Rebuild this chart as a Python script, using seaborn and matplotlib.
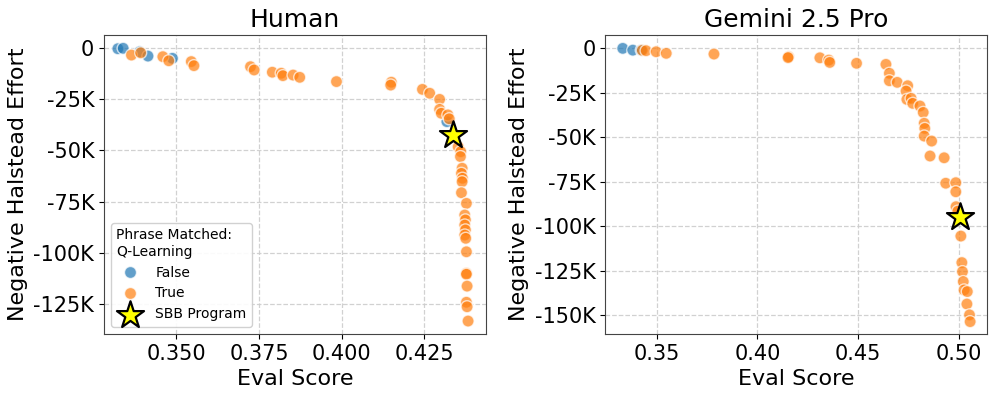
import numpy as np
import pandas as pd
import seaborn as sns
import matplotlib.pyplot as plt
from matplotlib.ticker import FuncFormatter, MultipleLocator

# Human panel
human_x = [0.3323, 0.3339, 0.3389, 0.3414, 0.3488, 0.4318,
           0.3364, 0.3392, 0.3459, 0.3477, 0.3545, 0.3553, 0.3724, 0.3735,
           0.3790, 0.3817, 0.3822, 0.3853, 0.3873, 0.3984, 0.4150, 0.4148,
           0.4244, 0.4266, 0.4296, 0.4296, 0.4301, 0.4321, 0.4325, 0.4352,
           0.4360, 0.4359, 0.4364, 0.4362, 0.4365, 0.4364, 0.4362, 0.4377,
           0.4372, 0.4374, 0.4372, 0.4374, 0.4372, 0.4375, 0.4377, 0.4377,
           0.4377, 0.4379, 0.4377, 0.4379, 0.4382]
human_y = [-0.2, 0.0, -1.7, -3.8, -4.9, -35.9,
           -3.3, -2.2, -4.1, -6.1, -6.5, -8.5, -9.0, -10.6,
           -11.7, -12.2, -13.4, -13.1, -14.2, -16.3, -16.6, -18.0,
           -20.1, -22.0, -25.0, -29.9, -31.8, -32.6, -34.5, -48.2,
           -50.6, -53.0, -58.7, -61.2, -63.6, -65.3, -70.7, -75.9,
           -81.6, -84.0, -86.5, -88.9, -91.4, -93.0, -99.6, -110.1,
           -110.6, -116.4, -124.3, -126.5, -133.5]
human_match = [False] * 6 + [True] * 45
human_star = (0.4335, -42.4)

# Gemini 2.5 Pro panel
gemini_x = [0.3331, 0.3381, 0.3423,
            0.3428, 0.3447, 0.3497, 0.3547, 0.3784, 0.4155, 0.4152, 0.4310,
            0.4354, 0.4359, 0.4492, 0.4638, 0.4655, 0.4655, 0.4694, 0.4746,
            0.4738, 0.4742, 0.4763, 0.4771, 0.4807, 0.4823, 0.4828, 0.4831,
            0.4828, 0.4865, 0.4857, 0.4927, 0.4935, 0.4985, 0.4985, 0.4986,
            0.4995, 0.5010, 0.5015, 0.5018, 0.5022, 0.5026, 0.5042, 0.5040,
            0.5053, 0.5056]
gemini_y = [0.0, -1.0, -1.0,
            -1.1, -1.3, -1.9, -2.8, -3.2, -4.7, -5.2, -5.3,
            -6.6, -7.9, -8.4, -9.0, -14.0, -18.2, -19.1, -21.0,
            -24.0, -28.7, -28.1, -30.9, -32.4, -36.0, -42.1, -45.0,
            -49.3, -52.1, -60.5, -61.5, -75.8, -75.5, -80.6, -89.0,
            -91.5, -105.5, -120.4, -125.5, -131.1, -135.8, -136.7, -143.7,
            -149.8, -153.6]
gemini_match = [False] * 3 + [True] * 42
gemini_star = (0.5006, -94.6)

palette = {False: "#1f77b4", True: "#ff7f0e"}


def k_fmt(v, pos):
    if abs(v) < 1:
        return "0"
    return f"{int(round(v / 1000))}K"


def draw(ax, xs, ys, match, star, title, xlim, ylim, xstep, ymin_tick):
    df = pd.DataFrame({
        "Eval Score": xs,
        "Negative Halstead Effort": np.array(ys) * 1000,
        "Phrase Matched: Q-Learning": match,
    })
    sns.scatterplot(
        data=df, x="Eval Score", y="Negative Halstead Effort",
        hue="Phrase Matched: Q-Learning", hue_order=[False, True],
        palette=palette, s=75, alpha=0.7, edgecolor="white", linewidth=1,
        ax=ax, legend=True, zorder=3,
    )
    ax.scatter([star[0]], [star[1] * 1000], marker="*", s=420, color="yellow",
               edgecolor="black", linewidth=1.6, zorder=5, label="SBB Program")
    ax.set_title(title, fontsize=18)
    ax.set_xlabel("Eval Score", fontsize=16)
    ax.set_ylabel("Negative Halstead Effort", fontsize=16)
    ax.set_xlim(*xlim)
    ax.set_ylim(*ylim)
    ax.xaxis.set_major_locator(MultipleLocator(xstep))
    ax.set_yticks(np.arange(0, ymin_tick - 1, -25000))
    ax.yaxis.set_major_formatter(FuncFormatter(k_fmt))
    ax.tick_params(labelsize=15)
    ax.grid(True, linestyle="--", color="#cccccc", linewidth=0.9, alpha=0.9)
    ax.set_axisbelow(True)
    for sp in ax.spines.values():
        sp.set_color("#444444")


fig, axes = plt.subplots(1, 2, figsize=(9.96, 3.98), dpi=100)
fig.subplots_adjust(left=0.1044, right=0.991, bottom=0.161, top=0.912, wspace=0.314)

draw(axes[0], human_x, human_y, human_match, human_star, "Human",
     (0.3281, 0.4435), (-139800, 6500), 0.025, -125000)
draw(axes[1], gemini_x, gemini_y, gemini_match, gemini_star, "Gemini 2.5 Pro",
     (0.3245, 0.514), (-160500, 7500), 0.05, -150000)

axes[1].get_legend().remove()
handles, labels = axes[0].get_legend_handles_labels()
axes[0].legend(handles, labels, title="Phrase Matched:\nQ-Learning",
               loc="lower left", fontsize=10, title_fontsize=10,
               alignment="left", framealpha=0.9, borderaxespad=0.5)

fig.savefig("out.png", dpi=100)
